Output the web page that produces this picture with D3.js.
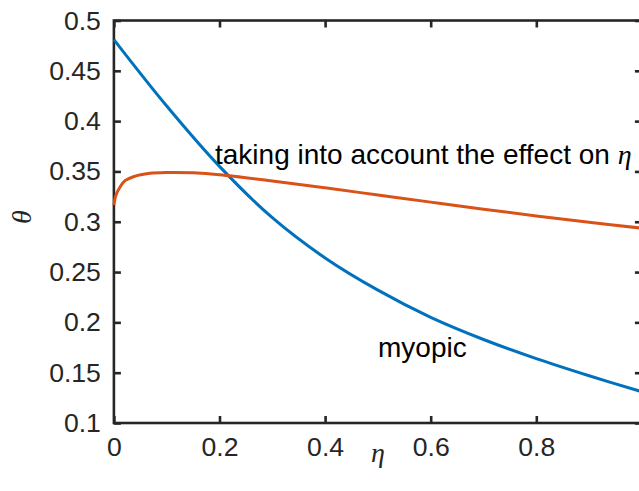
<!DOCTYPE html>
<html>
<head>
<meta charset="utf-8">
<style>
  body { margin: 0; background: #fff; }
  text { font-family: "Liberation Sans", Arial, Helvetica, sans-serif; }
  .math { font-family: "Liberation Serif", "Times New Roman", serif; font-style: italic; }
</style>
</head>
<body>
<div id="chart"></div>
<script src="https://cdn.jsdelivr.net/npm/d3@7"></script>
<script>
// myopic curve (blue)
var etaMyopic = [0, 0.1, 0.2, 0.3, 0.4, 0.5, 0.6, 0.7, 0.8, 0.9, 1.0];
var thetaMyopic = [0.481, 0.415, 0.355, 0.304, 0.264, 0.232, 0.205, 0.183, 0.164, 0.147, 0.131];

// taking into account the effect on eta (orange)
var etaFull = [0, 0.004, 0.012, 0.021, 0.037, 0.068, 0.1, 0.15, 0.2, 0.3, 0.4, 0.5, 0.6, 0.7, 0.8, 0.9, 1.0];
var thetaFull = [0.3166, 0.3266, 0.3348, 0.3408, 0.3447, 0.3481, 0.349, 0.3486, 0.3467, 0.3405, 0.3337, 0.3266, 0.3195, 0.3125, 0.3058, 0.2995, 0.2936];

var xTicks = [0, 0.2, 0.4, 0.6, 0.8];
var yTicks = [0.1, 0.15, 0.2, 0.25, 0.3, 0.35, 0.4, 0.45, 0.5];

var width = 639, height = 491;
// plot box (right edge sits just outside the picture)
var boxL = 113.9, boxR = 641.9, boxT = 20.5, boxB = 423;

var svg = d3.select("#chart").append("svg")
  .attr("width", width)
  .attr("height", height);

var x = d3.scaleLinear().domain([0, 1]).range([boxL, boxR]);
var y = d3.scaleLinear().domain([0.1, 0.5]).range([boxB, boxT]);

var fmt = function(d) { return String(d); };

// axes, ticks pointing inward (matlab style)
svg.append("g")
  .attr("transform", "translate(0," + boxB + ")")
  .call(d3.axisBottom(x).tickValues(xTicks).tickFormat(fmt).tickSizeInner(-7).tickSizeOuter(0).tickPadding(14));

svg.append("g")
  .attr("transform", "translate(0," + boxT + ")")
  .call(d3.axisTop(x).tickValues(xTicks).tickFormat("").tickSizeInner(-7).tickSizeOuter(0));

svg.append("g")
  .attr("transform", "translate(" + boxL + ",0)")
  .call(d3.axisLeft(y).tickValues(yTicks).tickFormat(fmt).tickSizeInner(-7).tickSizeOuter(0).tickPadding(13));

svg.append("g")
  .attr("transform", "translate(" + boxR + ",0)")
  .call(d3.axisRight(y).tickValues(yTicks).tickFormat("").tickSizeInner(-7).tickSizeOuter(0));

svg.selectAll(".domain").remove();
svg.selectAll(".tick line").attr("stroke", "#262626").attr("stroke-width", 2.6);
svg.selectAll(".tick text")
  .attr("fill", "#262626")
  .attr("font-size", 26.6)
  .attr("font-family", "Liberation Sans, Arial, Helvetica, sans-serif");

// box
svg.append("rect")
  .attr("x", boxL).attr("y", boxT)
  .attr("width", boxR - boxL).attr("height", boxB - boxT)
  .attr("fill", "none")
  .attr("stroke", "#262626")
  .attr("stroke-width", 2.6);

// curves
var line = d3.line()
  .x(function(d) { return x(d[0]); })
  .y(function(d) { return y(d[1]); })
  .curve(d3.curveCatmullRom.alpha(0.5));

svg.append("path")
  .datum(d3.zip(etaMyopic, thetaMyopic))
  .attr("d", line)
  .attr("fill", "none")
  .attr("stroke", "#0072BD")
  .attr("stroke-width", 3);

svg.append("path")
  .datum(d3.zip(etaFull, thetaFull))
  .attr("d", line)
  .attr("fill", "none")
  .attr("stroke", "#D95319")
  .attr("stroke-width", 3);

// annotations
var ann = svg.append("text")
  .attr("x", 215).attr("y", 164)
  .attr("font-size", 28)
  .attr("fill", "#000");
ann.append("tspan").text("taking into account the effect on ");
ann.append("tspan").attr("class", "math").text("η");

svg.append("text")
  .attr("x", 378).attr("y", 357)
  .attr("font-size", 28)
  .attr("fill", "#000")
  .text("myopic");

// axis labels
svg.append("text")
  .attr("class", "math")
  .attr("x", x(0.5)).attr("y", 462)
  .attr("text-anchor", "middle")
  .attr("font-size", 28)
  .attr("fill", "#262626")
  .text("η");

svg.append("text")
  .attr("class", "math")
  .attr("transform", "translate(31,217) rotate(-90)")
  .attr("text-anchor", "middle")
  .attr("font-size", 28)
  .attr("fill", "#262626")
  .text("θ");
</script>
</body>
</html>
